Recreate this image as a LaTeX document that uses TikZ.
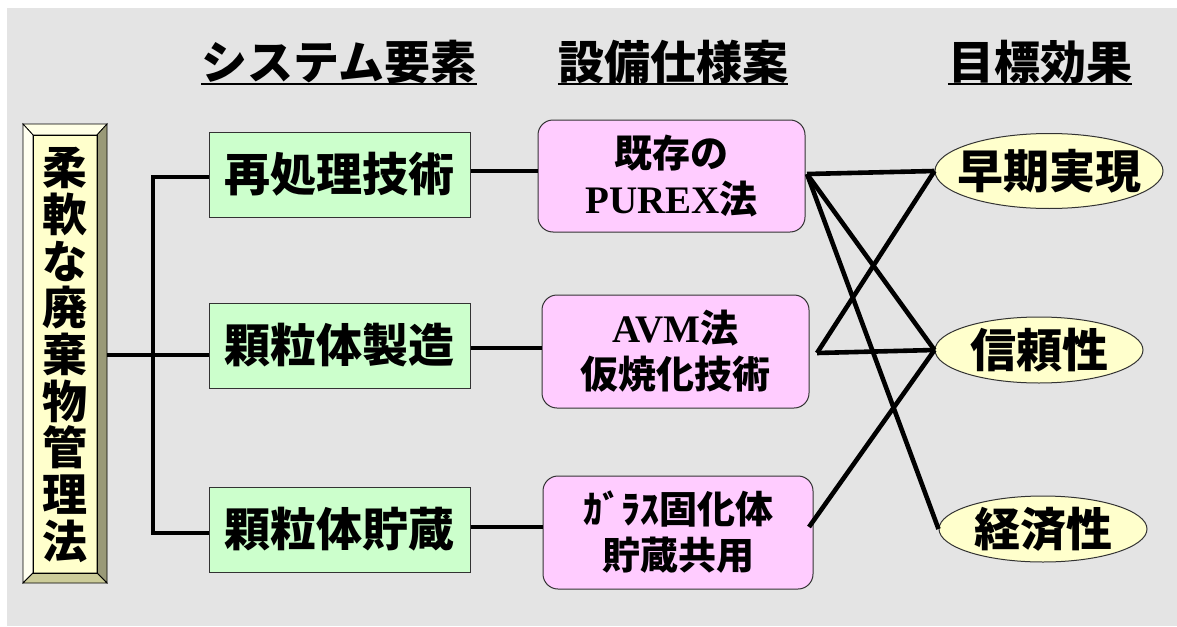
\documentclass[tikz,border=0pt]{standalone}
\usepackage{fontspec}
\setmainfont{Noto Sans CJK JP}
\newfontfamily\tms{Liberation Serif}
\usetikzlibrary{shapes.geometric}
\definecolor{bggray}{HTML}{E4E4E4}
\definecolor{greenfill}{HTML}{CCFFCC}
\definecolor{pinkfill}{HTML}{FFCCFF}
\definecolor{creamfill}{HTML}{FFFFCC}
\definecolor{bevtop}{HTML}{FFFFE6}
\definecolor{bevleft}{HTML}{FFFFF0}
\definecolor{bevright}{HTML}{999977}
\definecolor{bevbottom}{HTML}{CCCC99}
\definecolor{edgegray}{HTML}{333333}
\tikzset{
  heading/.style={inner sep=0pt, font=\bfseries\fontsize{46}{47}\selectfont},
  greenbox/.style={draw=edgegray, line width=1pt, fill=greenfill, minimum width=261, minimum height=85, inner sep=0pt, font=\bfseries\fontsize{46}{47}\selectfont},
  pinkbox/.style={draw=edgegray, line width=1pt, fill=pinkfill, rounded corners=15pt, inner sep=0pt, align=center, font=\bfseries\fontsize{38}{46}\selectfont},
  goal/.style={ellipse, draw=edgegray, line width=1pt, fill=creamfill, inner sep=0pt},
  goaltext/.style={inner sep=0pt, font=\bfseries\fontsize{46}{47}\selectfont},
  conn/.style={line width=4.6pt, black},
  bev/.style={draw=black, line width=0.8pt}
}
\begin{document}
\begin{tikzpicture}[x=1pt,y=-1pt]
\useasboundingbox (0,0) rectangle (1177,626);
\fill[bggray] (7,8) rectangle (1177,626);

% headings
\node[heading] (h1) at (339,62) {システム要素};
\node[heading] (h2) at (673,62) {設備仕様案};
\node[heading] (h3) at (1040,62) {目標効果};
\foreach \h in {h1,h2,h3}{
  \draw[line width=2pt] (\h.south west |- 0,84) -- (\h.south east |- 0,84);
}

% left bevelled box
\node[minimum width=84, minimum height=459, inner sep=0pt] (L) at (65,353.5) {};
\fill[creamfill] (33,135) rectangle (97,573);
\filldraw[bev, fill=bevtop] (23,124) -- (107,124) -- (97,135) -- (33,135) -- cycle;
\filldraw[bev, fill=bevleft] (23,124) -- (33,135) -- (33,573) -- (23,583) -- cycle;
\filldraw[bev, fill=bevright] (107,124) -- (107,583) -- (97,573) -- (97,135) -- cycle;
\filldraw[bev, fill=bevbottom] (23,583) -- (107,583) -- (97,573) -- (33,573) -- cycle;
\draw[bev] (33,135) rectangle (97,573);
\node[align=center, inner sep=0pt, font=\bfseries\fontsize{45}{46.7}\selectfont] (Lt) at (65,355)
  {柔\\軟\\な\\廃\\棄\\物\\管\\理\\法};

% green boxes
\node[greenbox] (g1) at (339.5,174.5) {再処理技術};
\node[greenbox] (g2) at (339.5,345.5) {顆粒体製造};
\node[greenbox] (g3) at (339.5,529.5) {顆粒体貯蔵};

% pink boxes
\node[pinkbox, minimum width=267, minimum height=112] (p1) at (671.5,176)
  {既存の\\{\tms\bfseries\fontsize{39}{46}\selectfont PUREX}法};
\node[pinkbox, minimum width=267, minimum height=113] (p2) at (675.5,351.5)
  {{\tms\bfseries\fontsize{39}{46}\selectfont AVM}法\\仮焼化技術};
\node[pinkbox, minimum width=270, minimum height=113] (p3) at (678,532.5)
  {ｶﾞﾗｽ固化体\\貯蔵共用};

% goal ellipses
\node[goal, minimum width=228, minimum height=75] (e1) at (1049,171) {};
\node[goaltext] (e1t) at (e1) {早期実現};
\node[goal, minimum width=208, minimum height=66] (e2) at (1039,350) {};
\node[goaltext] (e2t) at (e2) {信頼性};
\node[goal, minimum width=208, minimum height=66] (e3) at (1043,529) {};
\node[goaltext] (e3t) at (e3) {経済性};

% trunk connectors
\coordinate (t1) at (153,177);
\coordinate (t3) at (153,533);
\draw[conn] (L.east |- 0,355) -- (g2.west |- 0,355);
\draw[conn] (g1.west |- t1) -- (t1) -- (t3) -- (g3.west |- t3);

% element -> spec
\draw[conn] (g1.east |- 0,171) -- (p1.west |- 0,171);
\draw[conn] (g2.east |- 0,348) -- (p2.west |- 0,348);
\draw[conn] (g3.east |- 0,527) -- (p3.west |- 0,527);

% spec -> goal
\coordinate (r1) at (807,174);
\coordinate (r2) at (817,353);
\coordinate (r3) at (809,527);
\draw[conn] (r1) -- (e1.west);
\draw[conn] (r1) -- (e2.west);
\draw[conn] (r1) -- (e3.west);
\draw[conn] (r2) -- (e1.west);
\draw[conn] (r2) -- (e2.west);
\draw[conn] (r3) -- (e2.west);
\end{tikzpicture}
\end{document}
